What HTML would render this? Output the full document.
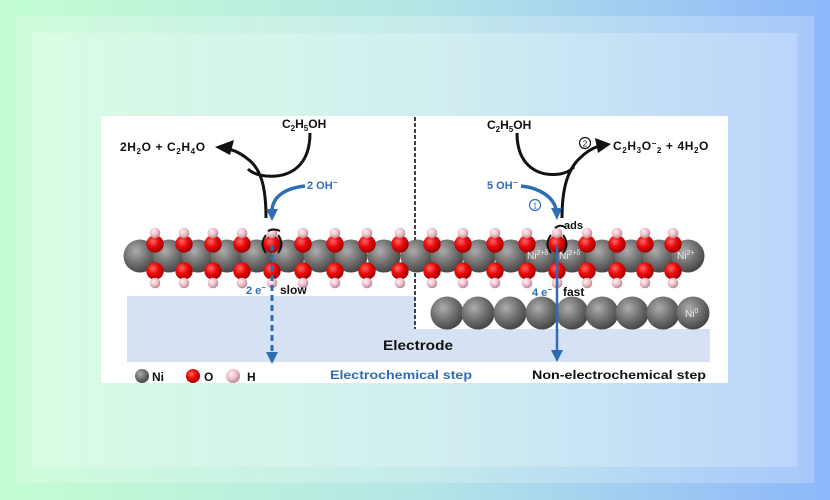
<!DOCTYPE html>
<html><head><meta charset="utf-8"><style>
html,body{margin:0;padding:0;}
body{width:830px;height:500px;position:relative;overflow:hidden;background:linear-gradient(90deg,#c3fdd1 0%,#b6e6e6 50%,#8eb7fb 100%);font-family:"Liberation Sans",Arial,sans-serif;}
.f1{position:absolute;left:16px;top:16px;right:16px;bottom:17px;background:rgba(255,255,255,0.22);}
.f2{position:absolute;left:33px;top:33px;right:33px;bottom:33px;background:rgba(255,255,255,0.22);}
svg{position:absolute;left:0;top:0;}
</style></head><body>
<div class="f1"></div><div class="f2"></div>
<svg width="830" height="500" viewBox="0 0 830 500" font-family="Liberation Sans, Arial, sans-serif" font-weight="bold">
<defs>
<radialGradient id="ni" cx="38%" cy="35%" r="70%"><stop offset="0" stop-color="#acacac"/><stop offset="0.5" stop-color="#747474"/><stop offset="1" stop-color="#404040"/></radialGradient>
<radialGradient id="ox" cx="38%" cy="35%" r="70%"><stop offset="0" stop-color="#ff6a6a"/><stop offset="0.45" stop-color="#ee0a0a"/><stop offset="1" stop-color="#960000"/></radialGradient>
<radialGradient id="hy" cx="38%" cy="35%" r="70%"><stop offset="0" stop-color="#fff2f5"/><stop offset="0.55" stop-color="#ecbcc5"/><stop offset="1" stop-color="#b07e88"/></radialGradient>
</defs>
<rect x="101" y="116" width="627" height="267" fill="#ffffff"/>
<!-- electrode -->
<path d="M127,296 H415 V329 H710 V362 H127 Z" fill="#d7e1f4"/>
<!-- dashed divider -->
<line x1="415" y1="117" x2="415" y2="329" stroke="#111" stroke-width="1.6" stroke-dasharray="4 2"/>
<!-- Ni0 layer -->
<g fill="url(#ni)">
<circle cx="447" cy="313" r="16.5"/><circle cx="478" cy="313" r="16.5"/><circle cx="510" cy="313" r="16.5"/><circle cx="542" cy="313" r="16.5"/><circle cx="572" cy="313" r="16.5"/><circle cx="602" cy="313" r="16.5"/><circle cx="632" cy="313" r="16.5"/><circle cx="663" cy="313" r="16.5"/><circle cx="693" cy="313" r="16.5"/>
</g>
<!-- Ni(OH)2 chain -->
<g fill="url(#ni)">
<circle cx="140" cy="256" r="16.5"/><circle cx="169" cy="256" r="16.5"/><circle cx="198" cy="256" r="16.5"/><circle cx="227" cy="256" r="16.5"/><circle cx="257" cy="256" r="16.5"/><circle cx="288" cy="256" r="16.5"/><circle cx="320" cy="256" r="16.5"/><circle cx="351" cy="256" r="16.5"/><circle cx="384" cy="256" r="16.5"/><circle cx="417" cy="256" r="16.5"/><circle cx="447" cy="256" r="16.5"/><circle cx="479" cy="256" r="16.5"/><circle cx="511" cy="256" r="16.5"/><circle cx="542" cy="256" r="16.5"/><circle cx="572" cy="256" r="16.5"/><circle cx="602" cy="256" r="16.5"/><circle cx="631" cy="256" r="16.5"/><circle cx="659" cy="256" r="16.5"/><circle cx="688" cy="256" r="16.5"/>
</g>
<g fill="url(#ox)">
<circle cx="155" cy="244" r="8.7"/><circle cx="184" cy="244" r="8.7"/><circle cx="213" cy="244" r="8.7"/><circle cx="242" cy="244" r="8.7"/><circle cx="272" cy="244" r="8.7"/><circle cx="303" cy="244" r="8.7"/><circle cx="335" cy="244" r="8.7"/><circle cx="367" cy="244" r="8.7"/><circle cx="400" cy="244" r="8.7"/><circle cx="432" cy="244" r="8.7"/><circle cx="463" cy="244" r="8.7"/><circle cx="495" cy="244" r="8.7"/><circle cx="527" cy="244" r="8.7"/><circle cx="557" cy="244" r="8.7"/><circle cx="587" cy="244" r="8.7"/><circle cx="617" cy="244" r="8.7"/><circle cx="645" cy="244" r="8.7"/><circle cx="673" cy="244" r="8.7"/>
<circle cx="155" cy="271" r="8.7"/><circle cx="184" cy="271" r="8.7"/><circle cx="213" cy="271" r="8.7"/><circle cx="242" cy="271" r="8.7"/><circle cx="272" cy="271" r="8.7"/><circle cx="303" cy="271" r="8.7"/><circle cx="335" cy="271" r="8.7"/><circle cx="367" cy="271" r="8.7"/><circle cx="400" cy="271" r="8.7"/><circle cx="432" cy="271" r="8.7"/><circle cx="463" cy="271" r="8.7"/><circle cx="495" cy="271" r="8.7"/><circle cx="527" cy="271" r="8.7"/><circle cx="557" cy="271" r="8.7"/><circle cx="587" cy="271" r="8.7"/><circle cx="617" cy="271" r="8.7"/><circle cx="645" cy="271" r="8.7"/><circle cx="673" cy="271" r="8.7"/>
</g>
<g fill="url(#hy)">
<circle cx="155" cy="233" r="5.3"/><circle cx="184" cy="233" r="5.3"/><circle cx="213" cy="233" r="5.3"/><circle cx="242" cy="233" r="5.3"/><circle cx="272" cy="233" r="5.3"/><circle cx="303" cy="233" r="5.3"/><circle cx="335" cy="233" r="5.3"/><circle cx="367" cy="233" r="5.3"/><circle cx="400" cy="233" r="5.3"/><circle cx="432" cy="233" r="5.3"/><circle cx="463" cy="233" r="5.3"/><circle cx="495" cy="233" r="5.3"/><circle cx="527" cy="233" r="5.3"/><circle cx="557" cy="233" r="5.3"/><circle cx="587" cy="233" r="5.3"/><circle cx="617" cy="233" r="5.3"/><circle cx="645" cy="233" r="5.3"/><circle cx="673" cy="233" r="5.3"/>
<circle cx="155" cy="283" r="5.3"/><circle cx="184" cy="283" r="5.3"/><circle cx="213" cy="283" r="5.3"/><circle cx="242" cy="283" r="5.3"/><circle cx="272" cy="283" r="5.3"/><circle cx="303" cy="283" r="5.3"/><circle cx="335" cy="283" r="5.3"/><circle cx="367" cy="283" r="5.3"/><circle cx="400" cy="283" r="5.3"/><circle cx="432" cy="283" r="5.3"/><circle cx="463" cy="283" r="5.3"/><circle cx="495" cy="283" r="5.3"/><circle cx="527" cy="283" r="5.3"/><circle cx="557" cy="283" r="5.3"/><circle cx="587" cy="283" r="5.3"/><circle cx="617" cy="283" r="5.3"/><circle cx="645" cy="283" r="5.3"/><circle cx="673" cy="283" r="5.3"/>
</g>
<!-- Ni labels -->
<g fill="#eeeeee" font-size="10" font-weight="normal">
<text x="527" y="259">Ni<tspan font-size="7" dy="-4">2+δ</tspan></text>
<text x="559" y="259">Ni<tspan font-size="7" dy="-4">2+δ</tspan></text>
<text x="677" y="259">Ni<tspan font-size="7" dy="-4">2+</tspan></text>
<text x="685" y="317">Ni<tspan font-size="7" dy="-4">0</tspan></text>
</g>
<!-- brackets -->
<g fill="none" stroke="#111" stroke-width="2">
<path d="M266,235 Q259,244 266,253"/><path d="M278,235 Q285,244 278,253"/><path d="M268,231 Q274,228 280,231"/>
<path d="M551,235 Q544,244 551,253"/><path d="M563,235 Q570,244 563,253"/><path d="M555,228 Q560,224 565,227"/>
</g>
<!-- black reaction arrows -->
<g fill="none" stroke="#111" stroke-width="3">
<path d="M310,133 C310,166 290,178 266,176 C257,175 251,172 248,169"/>
<path d="M266,218 C266,190 262,170 249,160 C242,154 236,151 229,149"/>
<path d="M517,133 C517,166 538,177 560,174 C566,173 571,170 574,167"/>
<path d="M562,218 C562,190 567,170 580,158 C587,151 593,148 599,146"/>
</g>
<polygon points="215,147 234,140 230,155" fill="#111"/>
<polygon points="611,144 595,138 598,153" fill="#111"/>
<!-- blue arrows -->
<g fill="none" stroke="#2e6db4" stroke-width="3.5">
<path d="M305,186 C286,188 273,196 272,210"/>
<path d="M521,186 C540,188 553,197 556,209"/>
</g>
<polygon points="272,221 266,209 278,209" fill="#2e6db4"/>
<polygon points="557,220 551,208 562,208" fill="#2e6db4"/>
<line x1="272" y1="245" x2="272" y2="353" stroke="#2e6db4" stroke-width="3" stroke-dasharray="6 4"/>
<polygon points="272,364 266,352 278,352" fill="#2e6db4"/>
<line x1="557" y1="245" x2="557" y2="352" stroke="#2e6db4" stroke-width="2.5"/>
<polygon points="557,362 551,350 563,350" fill="#2e6db4"/>
<circle cx="535" cy="205" r="5.5" fill="#fff" stroke="#2e6db4" stroke-width="1.2"/>
<text x="535" y="208.5" font-size="8" font-weight="normal" fill="#2e6db4" text-anchor="middle">1</text>
<circle cx="585" cy="143" r="5.5" fill="#fff" stroke="#111" stroke-width="1.2"/>
<text x="585" y="146.5" font-size="8" font-weight="normal" fill="#111" text-anchor="middle">2</text>
<!-- formula texts -->
<g fill="#111" font-size="12">
<text x="282" y="128">C<tspan font-size="8" dy="3">2</tspan><tspan dy="-3">H</tspan><tspan font-size="8" dy="3">5</tspan><tspan dy="-3">OH</tspan></text>
<text x="487" y="129">C<tspan font-size="8" dy="3">2</tspan><tspan dy="-3">H</tspan><tspan font-size="8" dy="3">5</tspan><tspan dy="-3">OH</tspan></text>
<text x="120" y="151" letter-spacing="0.6">2H<tspan font-size="8" dy="3">2</tspan><tspan dy="-3">O + C</tspan><tspan font-size="8" dy="3">2</tspan><tspan dy="-3">H</tspan><tspan font-size="8" dy="3">4</tspan><tspan dy="-3">O</tspan></text>
<text x="613" y="150" letter-spacing="0.6">C<tspan font-size="8" dy="3">2</tspan><tspan dy="-3">H</tspan><tspan font-size="8" dy="3">3</tspan><tspan dy="-3">O</tspan><tspan font-size="8" dy="-4">−</tspan><tspan font-size="8" dy="7">2</tspan><tspan dy="-3"> + 4H</tspan><tspan font-size="8" dy="3">2</tspan><tspan dy="-3">O</tspan></text>
<text x="564" y="229" font-size="11">ads</text>
<text x="280" y="294">slow</text>
<text x="563" y="296">fast</text>
<text x="383" y="350" font-size="14" textLength="70" lengthAdjust="spacingAndGlyphs">Electrode</text>
<text x="152" y="381">Ni</text>
<text x="204" y="381">O</text>
<text x="247" y="381">H</text>
<text x="532" y="379" textLength="174" lengthAdjust="spacingAndGlyphs">Non-electrochemical step</text>
</g>
<g fill="#2e6db4" font-size="11">
<text x="307" y="189">2 OH<tspan font-size="8" dy="-4">−</tspan></text>
<text x="487" y="189">5 OH<tspan font-size="8" dy="-4">−</tspan></text>
<text x="246" y="294">2 e<tspan font-size="8" dy="-4">−</tspan></text>
<text x="532" y="296">4 e<tspan font-size="8" dy="-4">−</tspan></text>
<text x="330" y="379" font-size="12" textLength="142" lengthAdjust="spacingAndGlyphs">Electrochemical step</text>
</g>
<!-- legend spheres -->
<circle cx="142" cy="376" r="7" fill="url(#ni)"/>
<circle cx="193" cy="376" r="7" fill="url(#ox)"/>
<circle cx="233" cy="376" r="7" fill="url(#hy)"/>
</svg>
</body></html>
